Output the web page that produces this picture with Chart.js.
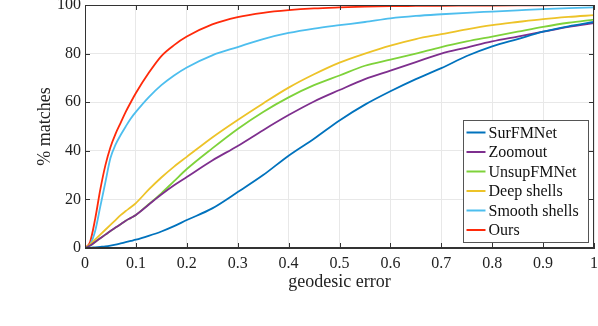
<!DOCTYPE html>
<html>
<head>
<meta charset="utf-8">
<script src="https://cdn.jsdelivr.net/npm/chart.js@4"></script>
<style>
  html, body { margin: 0; padding: 0; background: #fff; }
  #chart { display: block; }
</style>
</head>
<body>
<canvas id="chart" width="598" height="326"></canvas>
<script>
// geodesic error thresholds
const errors = [0, 0.01, 0.02, 0.03, 0.04, 0.05, 0.06, 0.07, 0.08, 0.09, 0.1, 0.125, 0.15, 0.175, 0.2,
  0.25, 0.3, 0.35, 0.4, 0.45, 0.5, 0.55, 0.6, 0.65, 0.7, 0.75, 0.8, 0.85, 0.9, 0.95, 1];

const methods = ["SurFMNet", "Zoomout", "UnsupFMNet", "Deep shells", "Smooth shells", "Ours"];
const colors = ["#0072BD", "#7E2F8E", "#7ED23A", "#EDC328", "#4DBEEE", "#FF2A0A"];

const surfmnet = [0, 0.1, 0.3, 0.5, 0.7, 1.0, 1.4, 1.9, 2.4, 2.9, 3.4, 5, 6.8, 9, 11.5,
  16.3, 23, 30, 38, 45, 52.5, 59, 64.5, 69.5, 74, 79, 83, 86, 89, 91.2, 93];
const zoomout = [0, 1, 2.5, 4, 5.5, 7, 8.4, 9.8, 11.2, 12.4, 13.6, 17.8, 22, 25.8, 29.2,
  36, 42, 48.5, 54.7, 60.3, 65, 69.5, 73, 76.5, 80, 82.5, 85, 87, 89, 91, 92.6];
const unsupfmnet = [0, 1, 2.5, 4, 5.5, 7, 8.4, 9.8, 11.2, 12.4, 13.6, 18, 22.5, 27.5, 32.5,
  41, 49, 56, 62, 67, 71, 75, 77.5, 80, 82.7, 85, 87, 89, 91, 92.7, 94];
const deepShells = [0, 1.5, 3.5, 5.5, 7.5, 9.5, 11.5, 13.5, 15.2, 16.8, 18.5, 24, 29, 33.5, 37.5,
  45.5, 52.7, 59.5, 66, 71.5, 76.3, 80, 83.3, 86, 88, 90, 91.7, 93, 94.2, 95.1, 95.8];
const smoothShells = [0, 1.5, 7, 17, 27, 37, 42.5, 46.5, 50, 53.3, 56, 62, 67, 71, 74.3,
  79.3, 82.7, 86, 88.5, 90.3, 91.7, 93, 94.5, 95.5, 96.2, 96.8, 97.3, 97.8, 98.3, 98.7, 99];
const ours = [0, 2.5, 12, 24, 34, 41.5, 47, 51.5, 56, 60, 63.8, 72, 79, 83.5, 87,
  92, 95, 96.8, 97.9, 98.6, 99, 99.3, 99.5, 99.6, 99.7, 99.75, 99.8, 99.85, 99.9, 99.95, 100];

const series = [surfmnet, zoomout, unsupfmnet, deepShells, smoothShells, ours];

const serif = "'Liberation Serif', 'DejaVu Serif', serif";
const axisColor = "#333333";

// box round the plot, inward ticks and the legend in the lower right corner
const matlabFrame = {
  id: "matlabFrame",
  afterDraw(chart) {
    const ctx = chart.ctx;
    const a = chart.chartArea;
    const xs = chart.scales.x, ys = chart.scales.y;
    ctx.save();
    ctx.strokeStyle = axisColor;
    ctx.lineWidth = 1;
    ctx.beginPath();
    xs.ticks.forEach(t => {
      const px = Math.round(xs.getPixelForValue(t.value)) + 0.5;
      ctx.moveTo(px, a.bottom); ctx.lineTo(px, a.bottom - 5);
      ctx.moveTo(px, a.top); ctx.lineTo(px, a.top + 5);
    });
    ys.ticks.forEach(t => {
      const py = Math.round(ys.getPixelForValue(t.value)) + 0.5;
      ctx.moveTo(a.left, py); ctx.lineTo(a.left + 5, py);
      ctx.moveTo(a.right, py); ctx.lineTo(a.right - 5, py);
    });
    ctx.stroke();
    ctx.strokeRect(Math.round(a.left) + 0.5, Math.round(a.top) + 0.5,
      Math.round(a.right - a.left) - 1, Math.round(a.bottom - a.top) - 1);

    // legend
    const rowH = 19.5;
    const w = 125, h = rowH * methods.length + 5;
    const x0 = Math.round(a.right - 6 - w) + 0.5;
    const y0 = Math.round(a.bottom - 6 - h) + 0.5;
    ctx.fillStyle = "#fff";
    ctx.fillRect(x0, y0, w, h);
    ctx.strokeStyle = "#555";
    ctx.strokeRect(x0, y0, w, h);
    ctx.font = "16px " + serif;
    ctx.textBaseline = "middle";
    ctx.textAlign = "left";
    chart.data.datasets.forEach((ds, i) => {
      const cy = y0 + 12 + i * rowH;
      ctx.strokeStyle = ds.borderColor;
      ctx.lineWidth = 2;
      ctx.beginPath();
      ctx.moveTo(x0 + 3, cy); ctx.lineTo(x0 + 22, cy);
      ctx.stroke();
      ctx.fillStyle = "#111";
      ctx.fillText(ds.label, x0 + 25, cy + 1);
    });
    ctx.restore();
  }
};

new Chart(document.getElementById("chart"), {
  type: "line",
  data: {
    datasets: methods.map((name, i) => ({
      label: name,
      data: errors.map((e, j) => ({ x: e, y: series[i][j] })),
      borderColor: colors[i],
      borderWidth: 1.8,
      pointRadius: 0,
      cubicInterpolationMode: "monotone",
      fill: false
    }))
  },
  options: {
    responsive: false,
    devicePixelRatio: 1,
    animation: false,
    layout: { padding: { top: 5, right: 4, left: 34, bottom: 33 } },
    plugins: { legend: { display: false }, tooltip: { enabled: false } },
    scales: {
      x: {
        type: "linear",
        min: 0, max: 1,
        ticks: {
          stepSize: 0.1,
          padding: 6,
          color: "#222",
          font: { family: serif, size: 16 },
          callback: v => (v === 0 || v === 1) ? String(v) : v.toFixed(1)
        },
        grid: { color: "#e8e8e8", drawTicks: false },
        border: { display: true, color: axisColor },
        title: { display: true, text: "geodesic error", color: "#222", font: { family: serif, size: 18 }, padding: 0 },
        afterFit(scale) { scale.height = 45; scale.paddingLeft = 0; scale.paddingRight = 0; }
      },
      y: {
        min: 0, max: 100,
        ticks: {
          stepSize: 20,
          padding: 4,
          color: "#222",
          font: { family: serif, size: 16 }
        },
        grid: { color: "#e8e8e8", drawTicks: false },
        border: { display: true, color: axisColor },
        title: { display: true, text: "% matches", color: "#222", font: { family: serif, size: 18 }, padding: 0 },
        afterFit(scale) { scale.width = 51; scale.paddingTop = 0; scale.paddingBottom = 0; }
      }
    }
  },
  plugins: [matlabFrame]
});
</script>
</body>
</html>
